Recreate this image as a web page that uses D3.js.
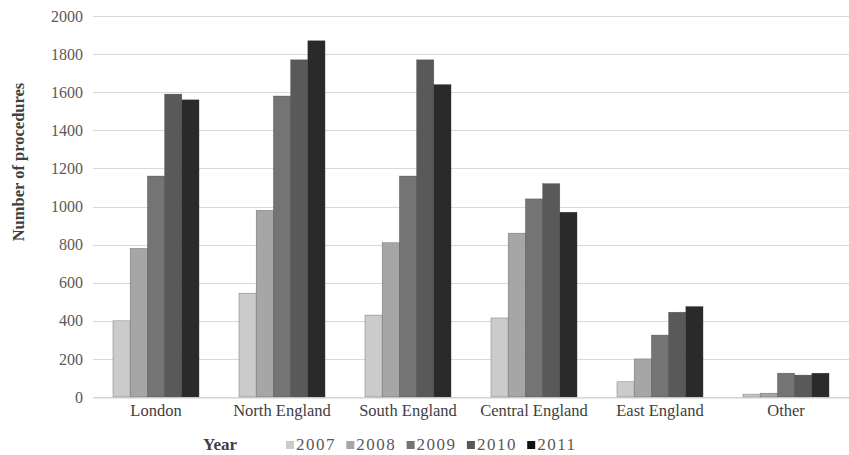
<!DOCTYPE html>
<html>
<head>
<meta charset="utf-8">
<script src="https://cdn.jsdelivr.net/npm/d3@7"></script>
<style>
  html, body { margin: 0; padding: 0; background: #fff; }
  svg { display: block; }
  svg text { font-family: "Liberation Serif", "DejaVu Serif", serif; }
</style>
</head>
<body>
<svg id="chart" width="849" height="455"></svg>
<script>
// Procedures per region, one series per year
const regions = ["London", "North England", "South England", "Central England", "East England", "Other"];
const years = ["2007", "2008", "2009", "2010", "2011"];
const values2007 = [400, 545, 430, 415, 80, 15];
const values2008 = [780, 980, 810, 860, 200, 20];
const values2009 = [1160, 1580, 1160, 1040, 325, 125];
const values2010 = [1590, 1770, 1770, 1120, 445, 115];
const values2011 = [1560, 1870, 1640, 970, 475, 125];
const yTicks = [0, 200, 400, 600, 800, 1000, 1200, 1400, 1600, 1800, 2000];
const colors = ["#cbcbcb", "#a6a6a6", "#747474", "#595959", "#2a2a2a"];
const legendColors = ["#cbcbcb", "#a6a6a6", "#747474", "#595959", "#111111"];

const series = [values2007, values2008, values2009, values2010, values2011];
const table = regions.map((r, i) => ({ region: r, vals: years.map((y, j) => ({ year: y, value: series[j][i] })) }));

const svg = d3.select("#chart");

const x0 = d3.scaleBand().domain(regions).range([93, 849]).paddingInner(0.317).paddingOuter(0.1585);
const x1 = d3.scaleBand().domain(years).range([0, x0.bandwidth()]);
const y = d3.scaleLinear().domain([0, 2000]).range([397, 16]);

// Horizontal gridlines
svg.append("g")
  .selectAll("line")
  .data(yTicks)
  .join("line")
  .attr("x1", 93).attr("x2", 849)
  .attr("y1", d => Math.round(y(d)) + 0.5).attr("y2", d => Math.round(y(d)) + 0.5)
  .attr("stroke", "#d9d9d9").attr("stroke-width", 1);

// Y tick labels
svg.append("g")
  .selectAll("text")
  .data(yTicks)
  .join("text")
  .attr("x", 83).attr("y", d => y(d))
  .attr("dy", "0.35em")
  .attr("text-anchor", "end")
  .style("font-size", "16px")
  .attr("fill", "#595959")
  .text(d => d);

// Bars
svg.append("g")
  .selectAll("g")
  .data(table)
  .join("g")
  .attr("transform", d => `translate(${x0(d.region)},0)`)
  .selectAll("rect")
  .data(d => d.vals)
  .join("rect")
  .attr("x", d => x1(d.year))
  .attr("width", x1.bandwidth())
  .attr("y", d => y(d.value))
  .attr("height", d => y(0) - y(d.value))
  .attr("fill", (d, i) => colors[i])
  .attr("stroke", "#3a3a3a").attr("stroke-width", 0.5).attr("stroke-opacity", 0.6);

// Category axis
const xAxis = svg.append("g")
  .attr("transform", `translate(0,${Math.round(y(0)) + 0.5})`)
  .call(d3.axisBottom(x0).tickSize(0).tickPadding(7));
xAxis.attr("font-family", null);
xAxis.select(".domain").attr("stroke", "#d0d0d0");
xAxis.selectAll("text")
  .style("font-size", "16.5px").attr("fill", "#404040");

// Y axis title
svg.append("text")
  .attr("transform", "translate(24,162) rotate(-90)")
  .attr("text-anchor", "middle")
  .style("font-size", "16.5px").attr("font-weight", "bold")
  .attr("fill", "#404040")
  .text("Number of procedures");

// Legend
const legend = svg.append("g");
legend.append("text")
  .attr("x", 203).attr("y", 450)
  .style("font-size", "17px").attr("font-weight", "bold")
  .attr("fill", "#404040")
  .text("Year");
const item = legend.selectAll("g.item")
  .data(years)
  .join("g")
  .attr("class", "item")
  .attr("transform", (d, i) => `translate(${286 + i * 60.3},0)`);
item.append("rect")
  .attr("x", 0).attr("y", 441).attr("width", 8).attr("height", 8)
  .attr("fill", (d, i) => legendColors[i]);
item.append("text")
  .attr("x", 10).attr("y", 450)
  .style("font-size", "17px").style("letter-spacing", "1.5px")
  .attr("fill", "#595959")
  .text(d => d);
</script>
</body>
</html>
